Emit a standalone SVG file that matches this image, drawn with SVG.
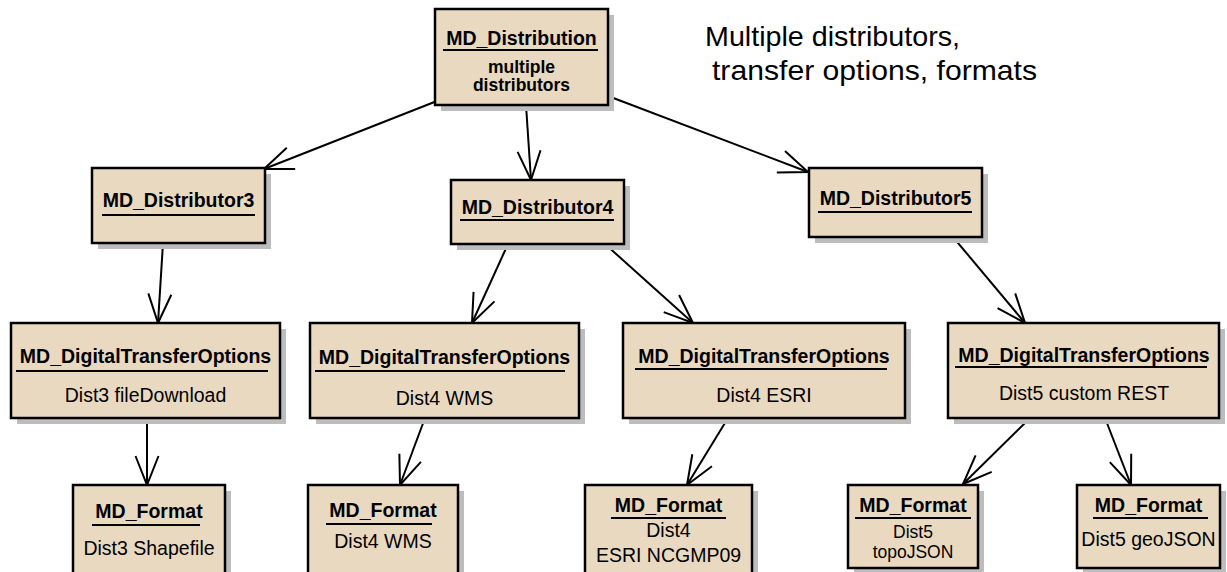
<svg xmlns="http://www.w3.org/2000/svg" width="1227" height="572" viewBox="0 0 1227 572">
<style>
.box{fill:#EAD9C1;stroke:#000;stroke-width:2.5}
.sh{fill:#BDBDBD}
.t{font-family:"Liberation Sans",Arial,sans-serif;font-size:19.5px;font-weight:bold;text-anchor:middle;fill:#000}
.b{font-family:"Liberation Sans",Arial,sans-serif;font-size:19.5px;text-anchor:middle;fill:#000}
.s{font-size:17.5px}
.ul{stroke:#000;stroke-width:2}
.c{fill:none;stroke:#000;stroke-width:2;marker-end:url(#arr)}
.note{font-family:"Liberation Sans",Arial,sans-serif;font-size:28px;fill:#000}
</style>
<defs>
<marker id="arr" markerUnits="userSpaceOnUse" markerWidth="40" markerHeight="40" viewBox="-35 -20 40 40" refX="0" refY="0" orient="auto" overflow="visible">
<path d="M-29,-11.5 L0,0 L-29,11.5" fill="none" stroke="#000" stroke-width="2"/>
</marker>
</defs>
<rect width="1227" height="572" fill="#fff"/>
<g id="connectors">
<line class="c" x1="437" y1="101" x2="264" y2="169"/>
<line class="c" x1="526" y1="105" x2="531" y2="180"/>
<line class="c" x1="608" y1="96" x2="808" y2="172"/>
<line class="c" x1="163" y1="243" x2="158" y2="323"/>
<line class="c" x1="508" y1="244" x2="472" y2="323"/>
<line class="c" x1="605" y1="244" x2="693" y2="323"/>
<line class="c" x1="953" y1="237" x2="1025" y2="323"/>
<line class="c" x1="147" y1="418" x2="147" y2="485"/>
<line class="c" x1="425" y1="418" x2="400" y2="485"/>
<line class="c" x1="728" y1="418" x2="687" y2="485"/>
<line class="c" x1="1030" y1="418" x2="963" y2="484"/>
<line class="c" x1="1105" y1="418" x2="1131" y2="485"/>
</g>
<g id="n_distribution">
<rect class="sh" x="441" y="15" width="173" height="96"/>
<rect class="box" x="435" y="9" width="173" height="96"/>
<text class="t" x="521.5" y="45">MD_Distribution</text>
<line class="ul" x1="443" y1="50" x2="598" y2="50"/>
<text class="t s" x="521.5" y="73">multiple</text>
<text class="t s" x="521.5" y="91">distributors</text>
</g>
<g id="n_distributor3">
<rect class="sh" x="98" y="174" width="173" height="75"/>
<rect class="box" x="92" y="168" width="173" height="75"/>
<text class="t" x="178.5" y="207">MD_Distributor3</text>
<line class="ul" x1="102" y1="215" x2="255" y2="215"/>
</g>
<g id="n_distributor4">
<rect class="sh" x="457" y="186" width="173" height="64"/>
<rect class="box" x="451" y="180" width="173" height="64"/>
<text class="t" x="537.5" y="214">MD_Distributor4</text>
<line class="ul" x1="460" y1="220" x2="614" y2="220"/>
</g>
<g id="n_distributor5">
<rect class="sh" x="815" y="174" width="173" height="69"/>
<rect class="box" x="809" y="168" width="173" height="69"/>
<text class="t" x="895.5" y="205">MD_Distributor5</text>
<line class="ul" x1="818" y1="212" x2="972" y2="212"/>
</g>
<g id="n_dto3">
<rect class="sh" x="17" y="329" width="269" height="95"/>
<rect class="box" x="11" y="323" width="269" height="95"/>
<text class="t" x="145.5" y="363">MD_DigitalTransferOptions</text>
<line class="ul" x1="16" y1="371" x2="268" y2="371"/>
<text class="b" x="145.5" y="402">Dist3 fileDownload</text>
</g>
<g id="n_dto4wms">
<rect class="sh" x="316" y="329" width="269" height="95"/>
<rect class="box" x="310" y="323" width="269" height="95"/>
<text class="t" x="444.5" y="364">MD_DigitalTransferOptions</text>
<line class="ul" x1="315" y1="371" x2="565" y2="371"/>
<text class="b" x="444.5" y="405">Dist4 WMS</text>
</g>
<g id="n_dto4esri">
<rect class="sh" x="629" y="329" width="282" height="95"/>
<rect class="box" x="623" y="323" width="282" height="95"/>
<text class="t" x="764" y="363">MD_DigitalTransferOptions</text>
<line class="ul" x1="635" y1="369" x2="887" y2="369"/>
<text class="b" x="764" y="402">Dist4 ESRI</text>
</g>
<g id="n_dto5">
<rect class="sh" x="954" y="329" width="271" height="95"/>
<rect class="box" x="948" y="323" width="271" height="95"/>
<text class="t" x="1084" y="362">MD_DigitalTransferOptions</text>
<line class="ul" x1="955" y1="367" x2="1207" y2="367"/>
<text class="b" x="1084" y="400">Dist5 custom REST</text>
</g>
<g id="n_format3">
<rect class="sh" x="79" y="491" width="152" height="95"/>
<rect class="box" x="73" y="485" width="152" height="95"/>
<text class="t" x="149" y="518">MD_Format</text>
<line class="ul" x1="92" y1="525" x2="200" y2="525"/>
<text class="b" x="149" y="555">Dist3 Shapefile</text>
</g>
<g id="n_format4wms">
<rect class="sh" x="314" y="491" width="150" height="95"/>
<rect class="box" x="308" y="485" width="150" height="95"/>
<text class="t" x="383" y="517">MD_Format</text>
<line class="ul" x1="326" y1="524" x2="432" y2="524"/>
<text class="b" x="383" y="548">Dist4 WMS</text>
</g>
<g id="n_format4esri">
<rect class="sh" x="591" y="491" width="167" height="95"/>
<rect class="box" x="585" y="485" width="167" height="95"/>
<text class="t" x="668.5" y="512">MD_Format</text>
<line class="ul" x1="611" y1="518" x2="726" y2="518"/>
<text class="b" x="668.5" y="537">Dist4</text>
<text class="b" x="668.5" y="562">ESRI NCGMP09</text>
</g>
<g id="n_format5topo">
<rect class="sh" x="854" y="491" width="130" height="83"/>
<rect class="box" x="848" y="485" width="130" height="83"/>
<text class="t" x="913" y="512">MD_Format</text>
<line class="ul" x1="855" y1="518" x2="971" y2="518"/>
<text class="b s" x="913" y="538">Dist5</text>
<text class="b s" x="913" y="558">topoJSON</text>
</g>
<g id="n_format5geo">
<rect class="sh" x="1083" y="491" width="143" height="83"/>
<rect class="box" x="1077" y="485" width="143" height="83"/>
<text class="t" x="1148.5" y="512">MD_Format</text>
<line class="ul" x1="1093" y1="518" x2="1208" y2="518"/>
<text class="b" x="1148.5" y="546">Dist5 geoJSON</text>
</g>
<g id="note">
<text class="note" x="705" y="46" textLength="255" lengthAdjust="spacingAndGlyphs">Multiple distributors,</text>
<text class="note" x="712" y="80" textLength="325" lengthAdjust="spacingAndGlyphs">transfer options, formats</text>
</g>
</svg>
